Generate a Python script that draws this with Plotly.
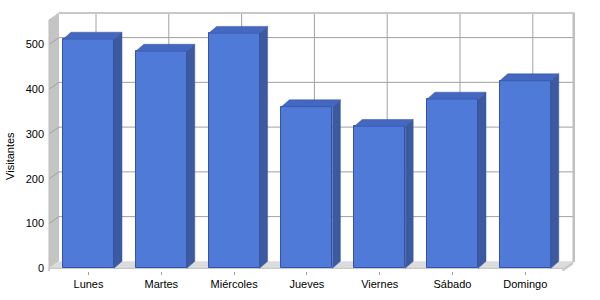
import plotly.graph_objects as go

# ---- data ----
days = ["Lunes", "Martes", "Miércoles", "Jueves", "Viernes", "Sábado", "Domingo"]
visitors = [512, 485, 525, 361, 317, 378, 419]
y_ticks = [0, 100, 200, 300, 400, 500]
y_title = "Visitantes"

# ---- layout constants (pixel geometry of the reference) ----
W, H = 600, 300
ML, MR, MT, MB = 45, 25, 10, 27
PX_CAT = 72.8          # pixels per category
PX_VAL = 0.451         # pixels per value unit
CAT0_PX = 88.5         # pixel x of first category centre
ZERO_PX = 270.3        # pixel y of value 0 (front)

xmin = (ML - CAT0_PX) / PX_CAT
xmax = (W - MR - CAT0_PX) / PX_CAT
ymin = -(H - MB - ZERO_PX) / PX_VAL
ymax = (ZERO_PX - MT) / PX_VAL

def px2x(px):
    return (px - CAT0_PX) / PX_CAT

X0 = px2x(49)          # front left edge
X1 = px2x(563)         # front right edge
DXW = 10 / PX_CAT      # wall depth
DYW = 7 / PX_VAL
DXB = 8 / PX_CAT       # bar depth
DYB = 7 / PX_VAL
DXG = 7.5 / PX_CAT     # vertical grid shift
YTOP = 555
BAR_W = 51 / PX_CAT
SLAB = -(273.5 - ZERO_PX) / PX_VAL

GRID = "#A0A0A0"
FRONT = "#4F7AD7"
SIDE = "#3B5AA0"
TOP = "#4468BF"
EDGE = "#3452A8"

shapes = []

def poly(pts, fill, line=None, lw=0, layer="below"):
    path = "M " + " L ".join(f"{x},{y}" for x, y in pts) + " Z"
    shapes.append(dict(type="path", path=path, xref="x", yref="y", fillcolor=fill,
                       line=dict(color=line or fill, width=lw), layer=layer))

def seg(x0, y0, x1, y1, color, w=1, layer="below"):
    shapes.append(dict(type="line", x0=x0, y0=y0, x1=x1, y1=y1, xref="x", yref="y",
                       line=dict(color=color, width=w), layer=layer))

# back wall
poly([(X0 + DXW, DYW), (X1 + DXW, DYW), (X1 + DXW, YTOP + DYW), (X0 + DXW, YTOP + DYW)], "white")
# left wall
poly([(X0, 0), (X0 + DXW, DYW), (X0 + DXW, YTOP + DYW), (X0, YTOP)], "#C4C4C4")
# floor
poly([(X0, 0), (X0 + DXW, DYW), (X1 + DXW, DYW), (X1, 0)], "#DCDCDC")
# floor slab front & side
poly([(X0, SLAB), (X1, SLAB), (X1, 0), (X0, 0)], "white", "#BDBDBD", 1)
poly([(X1, SLAB), (X1 + DXW, SLAB + DYW), (X1 + DXW, DYW), (X1, 0)], "#C8C8C8")

# grid
for v in y_ticks[1:]:
    seg(X0 + DXW, v + DYW, X1 + DXW, v + DYW, GRID)
    seg(X0, v, X0 + DXW, v + DYW, GRID)
for i in range(len(days)):
    seg(i + DXG, DYW, i + DXG, YTOP + DYW, GRID)

# wall edges
seg(X0 + DXW, YTOP + DYW, X1 + DXW, YTOP + DYW, "#C8C8C8", 2)
seg(X1 + DXW + 1.5 / PX_CAT, DYW - 2, X1 + DXW + 1.5 / PX_CAT, YTOP + DYW + 1, "#C0C0C0", 4)
seg(X0, SLAB, X0, YTOP, "#BDBDBD", 1)
seg(X0, YTOP, X0 + DXW, YTOP + DYW, "#C8C8C8", 1)

fig = go.Figure()

# front faces
fig.add_trace(go.Bar(x=list(range(len(days))), y=visitors, width=BAR_W,
                     marker=dict(color=FRONT, line=dict(color=EDGE, width=1)),
                     hoverinfo="skip", showlegend=False))

# side and top faces
for i, v in enumerate(visitors):
    r = i + BAR_W / 2
    l = i - BAR_W / 2
    fig.add_trace(go.Scatter(x=[r, r + DXB, r + DXB, r, r], y=[0, DYB, v + DYB, v, 0],
                             fill="toself", fillcolor=SIDE, mode="lines",
                             line=dict(color=SIDE, width=0.5), hoverinfo="skip", showlegend=False))
    fig.add_trace(go.Scatter(x=[l, l + DXB, r + DXB, r, l], y=[v, v + DYB, v + DYB, v, v],
                             fill="toself", fillcolor=TOP, mode="lines",
                             line=dict(color=EDGE, width=0.5), hoverinfo="skip", showlegend=False))

font = dict(family="Liberation Sans, Arial, sans-serif", size=11, color="#000000")

fig.update_layout(
    width=W, height=H, margin=dict(l=ML, r=MR, t=MT, b=MB),
    paper_bgcolor="white", plot_bgcolor="white",
    shapes=shapes, font=font, bargap=0,
    xaxis=dict(range=[xmin, xmax], tickvals=list(range(len(days))), ticktext=days,
               showgrid=False, zeroline=False, showline=False,
               ticks="outside", ticklen=3, tickcolor="#A0A0A0", tickfont=font),
    yaxis=dict(range=[ymin, ymax], tickvals=y_ticks, showgrid=False, zeroline=False,
               showline=False, ticks="", tickfont=font, ticklabelstandoff=0),
    annotations=[dict(text=y_title, x=10, xref="paper", y=0.5, yref="paper",
                      showarrow=False, textangle=-90, font=font)],
)
fig.update_layout(annotations=[dict(text=y_title, xref="paper", yref="paper",
                                    x=-(ML - 10) / (W - ML - MR), y=1 - (157 - MT) / (H - MT - MB),
                                    xanchor="center", yanchor="middle",
                                    showarrow=False, textangle=-90, font=font)])

fig.write_html("out.html")
